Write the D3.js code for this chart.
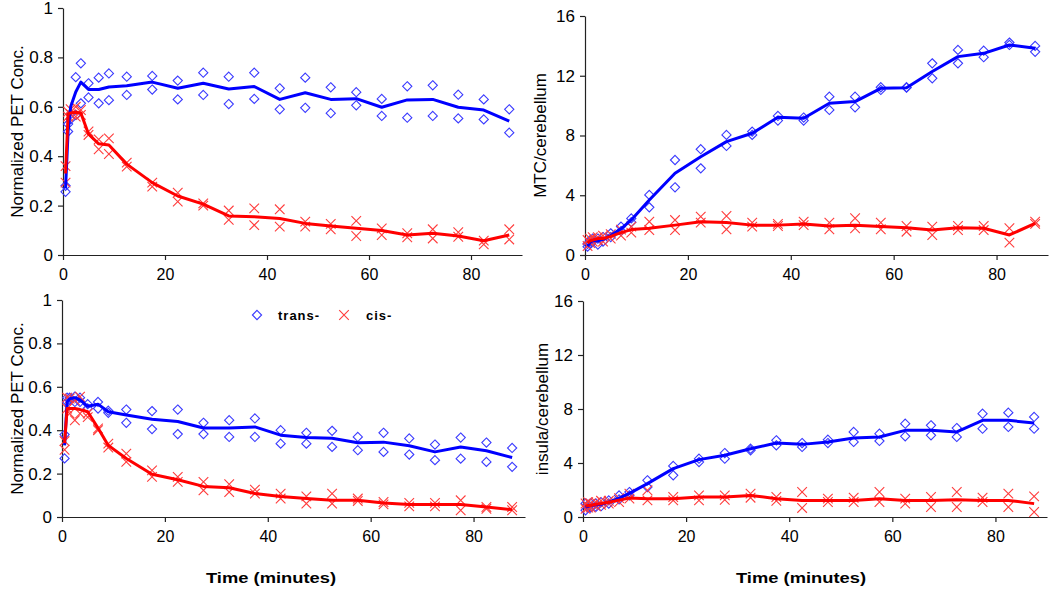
<!DOCTYPE html>
<html><head><meta charset="utf-8">
<script src="https://cdn.jsdelivr.net/npm/d3@7"></script>
<style>
html,body{margin:0;padding:0;background:#fff;}
svg{display:block;font-family:"Liberation Sans",Arial,sans-serif;}
</style></head>
<body>
<svg id="chart" width="1050" height="589"></svg>
<script>
// ---------- data ----------
const times = [0.5, 1, 1.5, 2.5, 3.5, 5, 7, 9, 12.5, 17.5, 22.5, 27.5, 32.5, 37.5, 42.5, 47.5, 52.5, 57.5, 62.5, 67.5, 72.5, 77.5, 82.5, 87.5];
const xTickValues = [0, 20, 40, 60, 80];
const xTickLabels = ["0", "20", "40", "60", "80"];
const normTickValues = [0, 0.2, 0.4, 0.6, 0.8, 1];
const normTickLabels = ["0", "0.2", "0.4", "0.6", "0.8", "1"];
const ratioTickValues = [0, 4, 8, 12, 16];
const ratioTickLabels = ["0", "4", "8", "12", "16"];
const seriesNames = ["trans-", "cis-"];
const yLabels = ["Normalized PET Conc.", "MTC/cerebellum", "Normalized PET Conc.", "insula/cerebellum"];
const xTitle = "Time (minutes)";

// panel 1: top-left (normalized PET)
const p1TransA = [0.28, 0.53, 0.57, 0.72, 0.776, 0.695, 0.718, 0.735, 0.722, 0.725, 0.706, 0.738, 0.722, 0.738, 0.675, 0.718, 0.679, 0.659, 0.632, 0.683, 0.687, 0.649, 0.63, 0.59];
const p1TransB = [0.256, 0.50, 0.55, 0.567, 0.614, 0.638, 0.614, 0.627, 0.648, 0.67, 0.63, 0.648, 0.611, 0.632, 0.59, 0.596, 0.574, 0.606, 0.563, 0.556, 0.563, 0.553, 0.549, 0.495];
const p1TransMean = [0.27, 0.5, 0.6, 0.66, 0.70, 0.67, 0.67, 0.68, 0.685, 0.70, 0.675, 0.695, 0.672, 0.682, 0.63, 0.657, 0.63, 0.633, 0.598, 0.628, 0.63, 0.598, 0.587, 0.542];
const p1CisA = [0.36, 0.58, 0.59, 0.60, 0.587, 0.5, 0.468, 0.472, 0.374, 0.293, 0.252, 0.209, 0.18, 0.189, 0.185, 0.135, 0.126, 0.138, 0.108, 0.088, 0.104, 0.092, 0.058, 0.104];
const p1CisB = [0.293, 0.56, 0.57, 0.56, 0.567, 0.486, 0.428, 0.409, 0.358, 0.277, 0.216, 0.2, 0.142, 0.121, 0.115, 0.115, 0.104, 0.077, 0.081, 0.072, 0.067, 0.074, 0.043, 0.063];
const p1CisMean = [0.33, 0.57, 0.575, 0.578, 0.575, 0.49, 0.45, 0.445, 0.368, 0.293, 0.239, 0.206, 0.158, 0.155, 0.148, 0.128, 0.117, 0.108, 0.099, 0.081, 0.088, 0.077, 0.058, 0.081];

// panel 2: top-right (MTC/cerebellum)
const p2TransA = [0.75, 1.0, 1.1, 1.1, 1.2, 1.45, 1.9, 2.45, 4.02, 6.36, 7.08, 8.04, 8.26, 9.31, 9.2, 10.6, 10.6, 11.23, 11.23, 12.83, 13.73, 13.68, 14.22, 14.0];
const p2TransB = [0.56, 0.8, 0.9, 0.7, 0.9, 1.2, 1.6, 2.2, 3.19, 4.53, 5.8, 7.3, 8.04, 9.0, 9.0, 9.71, 9.89, 11.05, 11.2, 11.83, 12.83, 13.24, 14.06, 13.6];
const p2TransMean = [0.6, 0.85, 0.95, 0.95, 1.05, 1.3, 1.75, 2.35, 3.68, 5.47, 6.58, 7.59, 8.15, 9.22, 9.15, 10.16, 10.27, 11.16, 11.2, 12.28, 13.28, 13.5, 14.06, 13.84];
const p2CisA = [1.0, 1.1, 1.2, 1.2, 1.3, 1.4, 1.7, 1.9, 2.23, 2.34, 2.57, 2.61, 2.17, 2.08, 2.23, 2.17, 2.46, 2.17, 1.94, 1.9, 1.94, 1.94, 1.79, 2.23];
const p2CisB = [0.6, 0.8, 0.9, 1.0, 0.9, 1.1, 1.3, 1.5, 1.67, 1.67, 2.17, 1.72, 1.9, 1.94, 2.0, 1.72, 1.79, 1.72, 1.56, 1.34, 1.67, 1.67, 0.83, 2.08];
const p2CisMean = [0.8, 0.95, 1.0, 1.1, 1.1, 1.25, 1.5, 1.7, 1.79, 2.0, 2.23, 2.17, 2.0, 2.0, 2.08, 1.94, 1.99, 1.9, 1.83, 1.67, 1.83, 1.79, 1.34, 2.12];

// panel 3: bottom-left (normalized PET)
const p3TransA = [0.38, 0.55, 0.55, 0.555, 0.55, 0.52, 0.53, 0.49, 0.495, 0.488, 0.495, 0.434, 0.446, 0.454, 0.4, 0.388, 0.397, 0.369, 0.388, 0.362, 0.334, 0.366, 0.343, 0.318];
const p3TransB = [0.27, 0.53, 0.54, 0.53, 0.53, 0.50, 0.50, 0.48, 0.434, 0.405, 0.382, 0.382, 0.369, 0.369, 0.338, 0.338, 0.323, 0.308, 0.3, 0.288, 0.262, 0.269, 0.254, 0.231];
const p3TransMean = [0.33, 0.53, 0.545, 0.55, 0.54, 0.51, 0.52, 0.485, 0.47, 0.45, 0.44, 0.41, 0.41, 0.415, 0.377, 0.366, 0.363, 0.342, 0.345, 0.328, 0.3, 0.323, 0.305, 0.274];
const p3CisA = [0.35, 0.55, 0.546, 0.538, 0.554, 0.477, 0.408, 0.338, 0.292, 0.215, 0.185, 0.162, 0.151, 0.126, 0.108, 0.095, 0.108, 0.085, 0.069, 0.065, 0.065, 0.077, 0.046, 0.046];
const p3CisB = [0.31, 0.50, 0.477, 0.446, 0.477, 0.46, 0.40, 0.32, 0.254, 0.185, 0.162, 0.123, 0.115, 0.108, 0.085, 0.062, 0.062, 0.074, 0.058, 0.049, 0.049, 0.031, 0.038, 0.031];
const p3CisMean = [0.34, 0.5, 0.5, 0.5, 0.495, 0.485, 0.41, 0.33, 0.27, 0.197, 0.172, 0.141, 0.135, 0.108, 0.095, 0.085, 0.077, 0.077, 0.065, 0.058, 0.058, 0.058, 0.046, 0.034];

// panel 4: bottom-right (insula/cerebellum)
const p4TransA = [1.0, 0.9, 1.0, 1.0, 1.1, 1.23, 1.6, 1.85, 2.72, 3.78, 4.32, 4.74, 5.06, 5.68, 5.48, 5.73, 6.3, 6.17, 6.91, 6.79, 6.59, 7.65, 7.73, 7.41];
const p4TransB = [0.5, 0.7, 0.7, 0.75, 0.8, 1.0, 1.3, 1.6, 2.22, 3.09, 4.07, 4.32, 4.94, 5.31, 5.19, 5.48, 5.56, 5.63, 5.98, 6.05, 5.93, 6.54, 6.67, 6.54];
const p4TransMean = [0.74, 0.8, 0.85, 0.9, 0.95, 1.1, 1.4, 1.75, 2.47, 3.58, 4.25, 4.57, 5.06, 5.48, 5.38, 5.56, 5.85, 5.93, 6.42, 6.42, 6.3, 7.16, 7.16, 6.96];
const p4CisA = [1.0, 1.1, 1.0, 1.1, 1.2, 1.2, 1.4, 1.73, 1.98, 1.48, 1.6, 1.6, 1.73, 1.48, 1.85, 1.36, 1.43, 1.85, 1.36, 1.48, 1.85, 1.43, 1.73, 1.53];
const p4CisB = [0.6, 0.7, 0.7, 0.8, 0.9, 1.0, 1.1, 1.36, 1.23, 1.23, 1.23, 1.28, 1.43, 1.19, 0.67, 1.11, 1.11, 1.11, 0.99, 0.74, 0.74, 1.11, 0.74, 0.37];
const p4CisMean = [0.8, 0.85, 0.85, 0.95, 1.0, 1.1, 1.25, 1.4, 1.36, 1.36, 1.48, 1.48, 1.6, 1.36, 1.23, 1.23, 1.23, 1.36, 1.23, 1.23, 1.28, 1.23, 1.23, 0.99];

// ---------- layout ----------
const svg = d3.select("#chart");
const panels = [
  {x0: 63, x1: 522, yTop: 8, yBot: 255, yMax: 1, ticks: normTickValues, labels: normTickLabels, yLabel: yLabels[0], labelX: 17,
   trans: [p1TransA, p1TransB], transMean: p1TransMean, cis: [p1CisA, p1CisB], cisMean: p1CisMean},
  {x0: 585, x1: 1048, yTop: 16, yBot: 255, yMax: 16, ticks: ratioTickValues, labels: ratioTickLabels, yLabel: yLabels[1], labelX: 540,
   trans: [p2TransA, p2TransB], transMean: p2TransMean, cis: [p2CisA, p2CisB], cisMean: p2CisMean},
  {x0: 62, x1: 525, yTop: 300, yBot: 517, yMax: 1, ticks: normTickValues, labels: normTickLabels, yLabel: yLabels[2], labelX: 17,
   trans: [p3TransA, p3TransB], transMean: p3TransMean, cis: [p3CisA, p3CisB], cisMean: p3CisMean},
  {x0: 583, x1: 1047, yTop: 301, yBot: 517, yMax: 16, ticks: ratioTickValues, labels: ratioTickLabels, yLabel: yLabels[3], labelX: 542,
   trans: [p4TransA, p4TransB], transMean: p4TransMean, cis: [p4CisA, p4CisB], cisMean: p4CisMean}
];

const blueLine = "#0000ff", redLine = "#ff0000";
const blueMark = "#3a3aff", redMark = "#ff3c3c";

function diamondPath(cx, cy, r) {
  return `M${cx},${cy - r}L${cx + r},${cy}L${cx},${cy + r}L${cx - r},${cy}Z`;
}
function crossPath(cx, cy, r) {
  return `M${cx - r},${cy - r}L${cx + r},${cy + r}M${cx - r},${cy + r}L${cx + r},${cy - r}`;
}

panels.forEach(p => {
  const x = d3.scaleLinear().domain([0, 90]).range([p.x0, p.x1]);
  const y = d3.scaleLinear().domain([0, p.yMax]).range([p.yBot, p.yTop]);
  const g = svg.append("g");

  // axes
  const xAxis = d3.axisBottom(x).tickValues(xTickValues).tickFormat((d, i) => xTickLabels[i]).tickSize(5).tickPadding(9).tickSizeOuter(0);
  const yAxis = d3.axisLeft(y).tickValues(p.ticks).tickFormat((d, i) => p.labels[i]).tickSize(5).tickPadding(5).tickSizeOuter(0);
  const gx = g.append("g").attr("transform", `translate(0,${p.yBot})`).call(xAxis);
  const gy = g.append("g").attr("transform", `translate(${p.x0},0)`).call(yAxis);
  [gx, gy].forEach(a => {
    a.select(".domain").attr("stroke", "#222").attr("stroke-width", 1.2);
    a.selectAll(".tick line").attr("stroke", "#222").attr("stroke-width", 1.2);
    a.selectAll(".tick text").attr("fill", "#000").style("font-family", "'Liberation Sans', Arial, sans-serif");
  });
  gx.selectAll(".tick text").style("font-size", "16px");
  gy.selectAll(".tick text").style("font-size", "17px");

  // y label
  g.append("text")
    .attr("transform", `translate(${p.labelX},${(p.yTop + p.yBot) / 2}) rotate(-90)`)
    .attr("text-anchor", "middle").attr("dy", "0.35em")
    .style("font-size", "17px").attr("fill", "#000")
    .text(p.yLabel);

  // markers
  const markG = g.append("g");
  p.trans.forEach(arr => {
    markG.selectAll(null).data(arr).enter().append("path")
      .attr("d", (d, i) => diamondPath(x(times[i]), y(d), 4.6))
      .attr("fill", "none").attr("stroke", blueMark).attr("stroke-width", 1.1);
  });
  p.cis.forEach(arr => {
    markG.selectAll(null).data(arr).enter().append("path")
      .attr("d", (d, i) => crossPath(x(times[i]), y(d), 4.8))
      .attr("fill", "none").attr("stroke", redMark).attr("stroke-width", 1.1);
  });

  // mean lines
  const line = d3.line().x((d, i) => x(times[i])).y(d => y(d));
  g.append("path").datum(p.transMean).attr("d", line)
    .attr("fill", "none").attr("stroke", blueLine).attr("stroke-width", 3).attr("stroke-linejoin", "round");
  g.append("path").datum(p.cisMean).attr("d", line)
    .attr("fill", "none").attr("stroke", redLine).attr("stroke-width", 3).attr("stroke-linejoin", "round");
});

// x titles
[{cx: 271, cy: 578}, {cx: 801, cy: 578}].forEach(t => {
  svg.append("text").attr("x", t.cx).attr("y", t.cy).attr("dy", "0.35em")
    .attr("text-anchor", "middle").style("font-size", "15px").style("font-weight", "bold")
    .attr("textLength", 130).attr("lengthAdjust", "spacingAndGlyphs")
    .attr("fill", "#000").text(xTitle);
});

// legend
const lg = svg.append("g");
lg.append("path").attr("d", diamondPath(257, 315, 4.6)).attr("fill", "none").attr("stroke", blueMark).attr("stroke-width", 1.1);
lg.append("text").attr("x", 278).attr("y", 315).attr("dy", "0.35em")
  .style("font-size", "13px").style("font-weight", "bold").style("letter-spacing", "1px").text(seriesNames[0]);
lg.append("path").attr("d", crossPath(344, 315, 4.8)).attr("fill", "none").attr("stroke", redMark).attr("stroke-width", 1.1);
lg.append("text").attr("x", 366).attr("y", 315).attr("dy", "0.35em")
  .style("font-size", "13px").style("font-weight", "bold").style("letter-spacing", "1px").text(seriesNames[1]);
</script>
</body></html>
